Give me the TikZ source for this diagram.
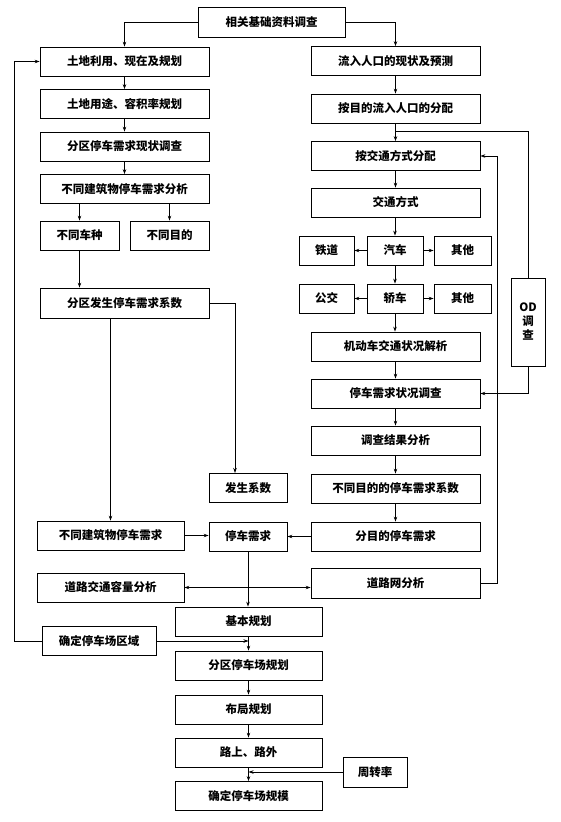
\documentclass[tikz,border=0pt]{standalone}
\usepackage{fontspec}
\newfontfamily\cjk{Noto Sans CJK SC}
\usetikzlibrary{arrows.meta}

\begin{document}
\begin{tikzpicture}[x=1pt, y=-1pt, >={Stealth[length=5pt,width=3.5pt]},
  line width=0.7pt,
  box/.style={draw, line width=0.8pt, inner sep=0pt, minimum height=29pt,
    font=\cjk\bfseries\fontsize{11.5}{14}\selectfont},
  wide/.style={box, minimum width=169pt},
  mid/.style={box, minimum width=147pt},
  small/.style={box, minimum width=78pt},
  tiny/.style={box, minimum width=56pt}]
  \useasboundingbox (0,0) rectangle (560,822);

  % top
  \node[mid, minimum height=30pt] (base) at (271.5,22) {相关基础资料调查};

  % left column
  \node[wide] (land)   at (124.5,61.5)  {土地利用、现在及规划};
  \node[wide] (use)    at (124.5,104)   {土地用途、容积率规划};
  \node[wide] (zone)   at (124.5,146.5) {分区停车需求现状调查};
  \node[wide] (bldana) at (124.5,189)   {不同建筑物停车需求分析};
  \node[small, minimum width=79pt] (vtype) at (79.5,235.5)  {不同车种};
  \node[small, minimum width=79pt] (purp)  at (169.5,235.5) {不同目的};
  \node[wide, minimum height=30pt] (gencoef) at (124.5,303) {分区发生停车需求系数};
  \node[small] (gen)  at (248,488)     {发生系数};
  \node[mid] (bldd)   at (110.5,535.5) {不同建筑物停车需求};
  \node[small] (park) at (248,536.5)   {停车需求};
  \node[mid] (roadcap) at (110.5,587.5) {道路交通容量分析};

  % right column
  \node[wide] (pop)    at (395.5,61)    {流入人口的现状及预测};
  \node[wide] (popd)   at (395.5,108.5) {按目的流入人口的分配};
  \node[wide] (modeD)  at (395.5,156)   {按交通方式分配};
  \node[wide] (mode)   at (395.5,202.5) {交通方式};
  \node[tiny] (car)    at (395,250.5)   {汽车};
  \node[tiny, minimum width=55pt] (rail) at (326.5,250.5) {铁道};
  \node[tiny, minimum width=57pt] (oth1) at (462.5,250.5) {其他};
  \node[tiny] (sedan)  at (395,298.5)   {轿车};
  \node[tiny, minimum width=55pt] (bus)  at (326.5,298.5) {公交};
  \node[tiny, minimum width=57pt] (oth2) at (462.5,298.5) {其他};
  \node[wide] (motor)  at (395.5,346.5) {机动车交通状况解析};
  \node[wide] (survey) at (395.5,393.5) {停车需求状况调查};
  \node[wide] (result) at (395.5,440.5) {调查结果分析};
  \node[wide] (pcoef)  at (395.5,488.5) {不同目的的停车需求系数};
  \node[wide] (pdem)   at (395.5,536.5) {分目的停车需求};
  \node[wide, minimum height=30pt] (roadnet) at (395.5,583) {道路网分析};
  \node[box, minimum width=34pt, minimum height=88pt, align=center] (od)
    at (528,322) {OD\\调\\查};

  % bottom column
  \node[mid] (plan)   at (248.5,621.5) {基本规划};
  \node[mid] (zonep)  at (248.5,665.5) {分区停车场规划};
  \node[mid] (layout) at (248.5,709.5) {布局规划};
  \node[mid] (onoff)  at (248.5,752.5) {路上、路外};
  \node[mid] (scale)  at (248.5,796)   {确定停车场规模};
  \node[box, minimum width=114pt] (area) at (99,641) {确定停车场区域};
  \node[box, minimum width=64pt, minimum height=30pt] (turn) at (375,772) {周转率};

  \coordinate (genin) at (235,473);
  \coordinate (br) at (395.5,131);
  \coordinate (rt) at (497,156);
  \coordinate (lt) at (14,61.5);

  % left links
  \draw[->] (base.west) -| (land.north);
  \draw[->] (land) -- (use);
  \draw[->] (use) -- (zone);
  \draw[->] (zone) -- (bldana);
  \draw[->] (vtype.north |- bldana.south) -- (vtype.north);
  \draw[->] (purp.north |- bldana.south) -- (purp.north);
  \draw[->] (vtype.south) -- (vtype.south |- gencoef.north);
  \draw[->] (bldd.north |- gencoef.south) -- (bldd.north);
  \draw[->] (gencoef.east) -| (genin);
  \draw[->] (bldd.east) -- (bldd.east -| park.west);
  \draw[->] (park.south) -- (park.south |- plan.north);
  \draw[<->] (roadcap.east) -- (roadcap.east -| roadnet.west);

  % right links
  \draw[->] (base.east) -| (pop.north);
  \draw[->] (pop) -- (popd);
  \draw[->] (popd) -- (modeD);
  \draw[->] (modeD) -- (mode);
  \draw[->] (mode.south -| car.north) -- (car.north);
  \draw[->] (car) -- (rail);
  \draw[->] (car) -- (oth1);
  \draw[->] (car) -- (sedan);
  \draw[->] (sedan) -- (bus);
  \draw[->] (sedan) -- (oth2);
  \draw[->] (sedan.south) -- (sedan.south |- motor.north);
  \draw[->] (motor) -- (survey);
  \draw[->] (survey) -- (result);
  \draw[->] (result) -- (pcoef);
  \draw[->] (pcoef) -- (pdem);
  \draw[->] (pdem.west) -- (pdem.west -| park.east);
  \draw (br) -| (od.north);
  \draw[->] (od.south) |- (survey.east);
  \draw[->] (roadnet.east) -| (rt) -- (modeD.east);

  % bottom links
  \draw[->] (plan) -- (zonep);
  \draw[->] (zonep) -- (layout);
  \draw[->] (layout) -- (onoff);
  \draw[->] (onoff) -- (scale);
  \draw[->] (area.east) -- (area.east -| plan.south);
  \draw[->] (area.west) -| (lt) -- (land.west);
  \draw[->] (turn.west) -- (turn.west -| scale.north);
\end{tikzpicture}
\end{document}
